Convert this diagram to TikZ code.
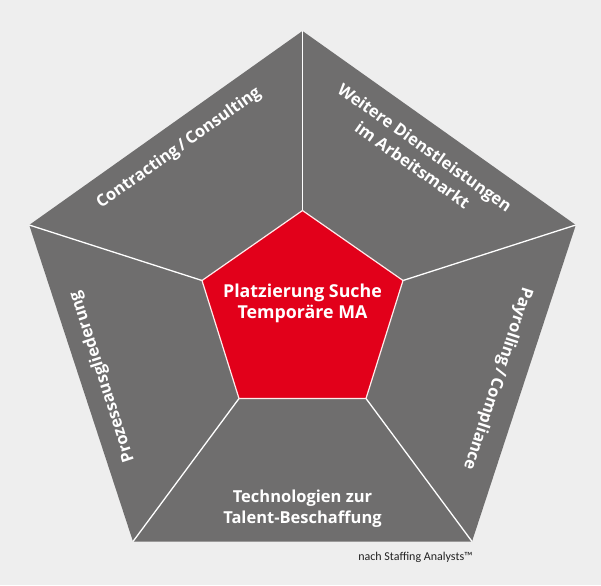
\documentclass[tikz,border=0pt]{standalone}
\usepackage{fontspec}
\setmainfont{Open Sans}
\newfontfamily\notefont{Carlito}
\definecolor{bgcol}{HTML}{EEEEEE}
\definecolor{segcol}{HTML}{6F6E6E}
\definecolor{corecol}{HTML}{E2001A}
\definecolor{notecol}{HTML}{222222}
\tikzset{
  seglabel/.style={text=white, font=\fontsize{16.5}{21.5}\selectfont\bfseries, align=center, inner sep=0pt},
  corelabel/.style={text=white, font=\fontsize{17.8}{21}\selectfont\bfseries, align=center, inner sep=0pt},
  spoke/.style={draw=white, line width=1.3pt},
  corestyle/.style={fill=corecol, draw=white!92!red, line width=1.2pt, line join=miter},
}
\begin{document}
\begin{tikzpicture}[x=1pt,y=-1pt]
\fill[bgcol] (0,0) rectangle (601,585);
\useasboundingbox (0,0) rectangle (601,585);
% outer pentagon
\coordinate (oT) at (302.5,31);
\coordinate (oR) at (575.8,225);
\coordinate (oBR) at (472,541.5);
\coordinate (oBL) at (133,541.5);
\coordinate (oL) at (29.2,225);
% inner pentagon
\coordinate (iT) at (302.5,210.5);
\coordinate (iR) at (403,280.5);
\coordinate (iBR) at (366,398.5);
\coordinate (iBL) at (239,398.5);
\coordinate (iL) at (202,280.5);
\fill[segcol] (oT) -- (oR) -- (oBR) -- (oBL) -- (oL) -- cycle;
\draw[spoke] (iT) -- (oT);
\draw[spoke] (iR) -- (oR);
\draw[spoke] (iBR) -- (oBR);
\draw[spoke] (iBL) -- (oBL);
\draw[spoke] (iL) -- (oL);
\draw[corestyle] (iT) -- (iR) -- (iBR) -- (iBL) -- (iL) -- cycle;
% labels
\node[corelabel] (core) at (302.5,303) {Platzierung Suche\\Temporäre MA};
\node[seglabel, rotate=35.3] (contr) at (179,148.4) {Contracting\,/\,Consulting};
\node[seglabel, rotate=-35.3] (weit) at (418.8,156.2) {Weitere Dienstleistungen\\im Arbeitsmarkt};
\node[seglabel, rotate=108] (proz) at (102.4,376.7) {Prozessausgliederung};
\node[seglabel, rotate=-108] (payr) at (497.5,378.7) {Payrolling\,/\,Compliance};
\node[seglabel] (tech) at (302.5,508.5) {Technologien zur\\Talent-Beschaffung};
\node[text=notecol, font=\notefont\fontsize{12}{14}\selectfont, inner sep=0pt] (note) at (415.5,557) {nach Staffing Analysts™};
\end{tikzpicture}
\end{document}
